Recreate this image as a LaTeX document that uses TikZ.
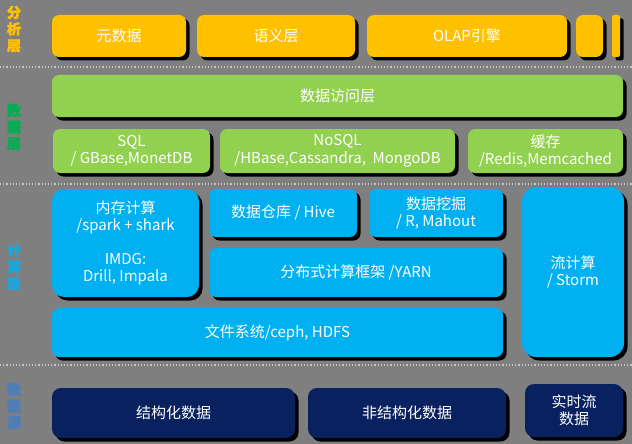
\documentclass[tikz,border=0pt]{standalone}
\usepackage{fontspec}
\setmainfont{Noto Sans CJK SC}
\newfontfamily\lblfont[FakeBold=2.5]{Noto Sans CJK SC}
\usetikzlibrary{shadows}

\definecolor{bggray}{HTML}{7F7F7F}
\definecolor{anaYellow}{HTML}{FFC000}
\definecolor{dataGreen}{HTML}{92D050}
\definecolor{compBlue}{HTML}{00B0F0}
\definecolor{srcNavy}{HTML}{0A2160}
\definecolor{lblGreen}{HTML}{00B050}
\definecolor{lblBlue}{HTML}{1AA7E0}
\definecolor{lblSrc}{HTML}{4A7EBB}

\tikzset{
  layerbox/.style={rectangle, rounded corners=7pt, inner sep=2pt, align=center,
    text=white, font=\fontsize{15}{17.5}\selectfont,
    general shadow={fill=black, shadow xshift=3.5pt, shadow yshift=-3.5pt}},
  sidelabel/.style={align=center, font=\lblfont\bfseries\fontsize{14}{16.5}\selectfont}
}

\begin{document}
\begin{tikzpicture}[x=1pt,y=-1pt]

    \fill[bggray] (0,0) rectangle (632,444);
    \useasboundingbox (0,0) rectangle (632,444);

    \foreach \y in {67,184,365}
        \draw[gray!45, dotted, line width=1.2pt] (0,\y) -- (632,\y);

    
    \node[sidelabel, text=anaYellow] (lblana) at (14,29) {分\\析\\层};
    \node[sidelabel, text=lblGreen] (lbldata) at (14,127) {数\\据\\层};
    \node[sidelabel, text=lblBlue] (lblcomp) at (14,267) {计\\算\\层};
    \node[sidelabel, text=lblSrc] (lblsrc) at (14,406) {数\\据\\源};

    
    \node[layerbox, fill=anaYellow, minimum width=134pt, minimum height=42pt] (meta) at (119,36) {元数据};
    \node[layerbox, fill=anaYellow, minimum width=158pt, minimum height=42pt] (semantic) at (276,36) {语义层};
    \node[layerbox, fill=anaYellow, minimum width=200pt, minimum height=42pt] (olap) at (467,36) {OLAP引擎};
    \node[layerbox, fill=anaYellow, minimum width=27pt, minimum height=42pt] (anaextra) at (589.5,36) {};
    \node[layerbox, fill=anaYellow, rounded corners=2pt, inner sep=0pt, minimum width=8pt, minimum height=42pt] (anatiny) at (616,36) {};

    
    \node[layerbox, fill=dataGreen, minimum width=571pt, minimum height=42pt] (access) at (337.5,96) {数据访问层};
    \node[layerbox, fill=dataGreen, minimum width=157pt, minimum height=44pt] (sql) at (131.5,151) {SQL\\/ GBase,MonetDB};
    \node[layerbox, fill=dataGreen, minimum width=235pt, minimum height=44pt] (nosql) at (337.5,151) {NoSQL\\/HBase,Cassandra,\ \ MongoDB};
    \node[layerbox, fill=dataGreen, minimum width=155pt, minimum height=44pt] (cache) at (545.5,151) {缓存\\/Redis,Memcached};

    
    \node[layerbox, fill=compBlue, rounded corners=12pt, minimum width=147pt, minimum height=108pt] (memcomp) at (125.5,243) {内存计算\\/spark + shark\\[16pt]IMDG:\\Drill, Impala};
    \node[layerbox, fill=compBlue, minimum width=148pt, minimum height=48pt] (warehouse) at (283,213) {数据仓库 / Hive};
    \node[layerbox, fill=compBlue, minimum width=134pt, minimum height=48pt] (mining) at (436,213) {数据挖掘\\/ R, Mahout};
    \node[layerbox, fill=compBlue, minimum width=294pt, minimum height=49pt] (yarn) at (356,272.5) {分布式计算框架 /YARN};
    \node[layerbox, fill=compBlue, minimum width=451pt, minimum height=49pt] (filesys) at (277.5,332.5) {文件系统/ceph, HDFS};
    \node[layerbox, fill=compBlue, rounded corners=14pt, minimum width=102pt, minimum height=170pt] (stream) at (573,272) {流计算\\/ Storm};

    
    \node[layerbox, fill=srcNavy, rounded corners=9pt, minimum width=243pt, minimum height=50pt] (structured) at (173.5,413) {结构化数据};
    \node[layerbox, fill=srcNavy, rounded corners=9pt, minimum width=198pt, minimum height=50pt] (unstructured) at (407,413) {非结构化数据};
    \node[layerbox, fill=srcNavy, rounded corners=9pt, minimum width=98pt, minimum height=53pt] (realtime) at (574,410.5) {实时流\\数据};

\end{tikzpicture}
\end{document}
